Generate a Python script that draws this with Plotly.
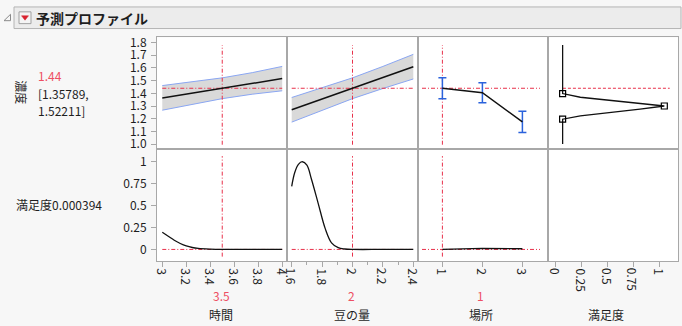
import plotly.graph_objects as go

FONT = "Noto Sans CJK JP, Noto Sans, sans-serif"
INK = "#1e1e1e"
FRAME = "#a8a8a8"
RED_LINE = "#e8304a"
RED_TEXT = "#ee4f62"
BAND = "#d9d9d9"
BAND_EDGE = "#8aa6f2"
ERR_BLUE = "#2a62dc"
PAGE = "#f7f7f7"

W, H = 682, 326

# --- names and current settings ---------------------------------------------
title_text = "予測プロファイル"
response_name = "濃度"
desir_name = "満足度"
factor_names = ["時間", "豆の量", "場所"]
current_labels = ["3.5", "2", "1"]
current_values = [3.5, 2.0, 1.0]
pred_current = 1.44
ci_text = ["[1.35789,", "1.52211]"]
desir_current_text = "0.000394"

# --- 時間 ------------------------------------------------------------------------
time_x = [3.0, 3.25, 3.5, 3.75, 4.0]
time_pred = [1.364, 1.402, 1.44, 1.478, 1.516]
time_upper = [1.461, 1.490, 1.522, 1.563, 1.612]
time_lower = [1.267, 1.314, 1.358, 1.393, 1.420]
time_desir_x = [3.0, 3.05, 3.1, 3.15, 3.2, 3.25, 3.3, 3.4, 3.5, 3.75, 4.0]
time_desir = [0.195, 0.15, 0.105, 0.068, 0.04, 0.022, 0.012, 0.004, 0.0004, 0.0, 0.0]

# --- 豆の量 ----------------------------------------------------------------------
bean_x = [1.6, 1.8, 2.0, 2.2, 2.4]
bean_pred = [1.27, 1.355, 1.44, 1.525, 1.61]
bean_upper = [1.367, 1.445, 1.522, 1.612, 1.707]
bean_lower = [1.173, 1.265, 1.358, 1.438, 1.513]
bean_desir_x = [1.6, 1.62, 1.644, 1.67, 1.7, 1.73, 1.775, 1.82, 1.862, 1.906, 1.95, 2.0, 2.2, 2.4]
bean_desir = [0.72, 0.877, 0.97, 1.0, 0.96, 0.80, 0.52, 0.24, 0.075, 0.02, 0.005, 0.0004, 0.0, 0.0]

# --- 場所 ------------------------------------------------------------------------
loc_x = [1, 2, 3]
loc_pred = [1.44, 1.405, 1.175]
loc_upper = [1.522, 1.483, 1.258]
loc_lower = [1.358, 1.325, 1.092]
loc_desir = [0.0004, 0.012, 0.008]

# --- 満足度 function (desirability vs response) -------------------------------
dfn_d = [0.067, 0.067, 0.238, 0.494, 0.814, 1.048, 0.814, 0.494, 0.238, 0.067, 0.067]
dfn_y = [1.781, 1.398, 1.369, 1.348, 1.320, 1.300, 1.276, 1.245, 1.222, 1.196, 1.0]
handle_d = [0.067, 1.048, 0.067]
handle_y = [1.398, 1.300, 1.196]

# --- tick values / labels --------------------------------------------------------
x_tick_vals = [[3, 3.2, 3.4, 3.6, 3.8, 4],
               [1.6, 1.8, 2.0, 2.2, 2.4],
               [1, 2, 3],
               [0, 0.25, 0.5, 0.75, 1]]
x_tick_text = [["3", "3.2", "3.4", "3.6", "3.8", "4"],
               ["1.6", "1.8", "2", "2.2", "2.4"],
               ["1", "2", "3"],
               ["0", "0.25", "0.5", "0.75", "1"]]
bean_minor_vals = [1.7, 1.9, 2.1, 2.3]
y_top_vals = [1.0, 1.1, 1.2, 1.3, 1.4, 1.5, 1.6, 1.7, 1.8]
y_bot_vals = [0, 0.25, 0.5, 0.75, 1]
y_bot_text = ["0", "0.25", "0.5", "0.75", "1"]

# --- axis scales -----------------------------------------------------------------
x_ranges = [[2.956, 4.04], [1.569, 2.431], [0.39, 3.64], [-0.074, 1.18]]
y_top_range = [0.959, 1.841]
y_bot_range = [-0.134, 1.142]
col_px = [(157, 287), (287, 418), (418, 548), (548, 678)]
top_px = (34, 148)
bot_px = (148, 262)


def px_x(v):
    return v / W


def px_y(v):
    return 1 - v / H


fig = go.Figure()


def ax(i):
    return ("x" if i == 1 else f"x{i}"), ("y" if i == 1 else f"y{i}")


def line(i, xs, ys, color, width=1.5, dash=None, shape="linear"):
    xa, ya = ax(i)
    fig.add_trace(go.Scatter(
        x=xs, y=ys, xaxis=xa, yaxis=ya, mode="lines",
        line=dict(color=color, width=width, dash=dash, shape=shape),
        hoverinfo="skip", showlegend=False))


REF_DASH = "4px,2px,1px,2px"

# top row: prediction profiles with confidence bands
for i, (xs, pr, up, lo, cur) in enumerate([
        (time_x, time_pred, time_upper, time_lower, current_values[0]),
        (bean_x, bean_pred, bean_upper, bean_lower, current_values[1])], start=1):
    xa, ya = ax(i)
    fig.add_trace(go.Scatter(x=xs, y=lo, xaxis=xa, yaxis=ya, mode="lines",
                             line=dict(color=BAND_EDGE, width=1), hoverinfo="skip", showlegend=False))
    fig.add_trace(go.Scatter(x=xs, y=up, xaxis=xa, yaxis=ya, mode="lines", fill="tonexty",
                             fillcolor=BAND, line=dict(color=BAND_EDGE, width=1),
                             hoverinfo="skip", showlegend=False))
    line(i, [xs[0], xs[-1]], [pred_current, pred_current], RED_LINE, 1, REF_DASH)
    line(i, [cur, cur], [0.995, 1.78], RED_LINE, 1, REF_DASH)
    line(i, xs, pr, "#111111", 1.5)

# 場所: categorical means with interval bars
line(3, [0.49, 3.44], [pred_current, pred_current], RED_LINE, 1, REF_DASH)
line(3, [current_values[2]] * 2, [0.995, 1.78], RED_LINE, 1, REF_DASH)
fig.add_trace(go.Scatter(
    x=loc_x, y=loc_pred, xaxis="x3", yaxis="y3", mode="lines",
    line=dict(color="#111111", width=1.5),
    error_y=dict(type="data", symmetric=False,
                 array=[u - p for u, p in zip(loc_upper, loc_pred)],
                 arrayminus=[p - l for p, l in zip(loc_pred, loc_lower)],
                 color=ERR_BLUE, thickness=1.5, width=4),
    hoverinfo="skip", showlegend=False))

# desirability function panel
line(4, [0.07, 1.1], [pred_current, pred_current], RED_LINE, 1, "3px,2px")
line(4, dfn_d, dfn_y, "#111111", 1.3)
fig.add_trace(go.Scatter(x=handle_d, y=handle_y, xaxis="x4", yaxis="y4", mode="markers",
                         marker=dict(symbol="square-open", size=6, color="#000000",
                                     line=dict(width=1.2)),
                         hoverinfo="skip", showlegend=False))

# bottom row: desirability traces
line(5, [3.0, 4.0], [0, 0], RED_LINE, 1, REF_DASH)
line(5, [current_values[0]] * 2, [-0.082, 1.064], RED_LINE, 1, REF_DASH)
line(5, time_desir_x, time_desir, "#111111", 1.3, shape="spline")

line(6, [1.6, 2.4], [0, 0], RED_LINE, 1, REF_DASH)
line(6, [current_values[1]] * 2, [-0.082, 1.064], RED_LINE, 1, REF_DASH)
line(6, bean_desir_x, bean_desir, "#111111", 1.3, shape="spline")

line(7, [0.49, 3.44], [0, 0], RED_LINE, 1, REF_DASH)
line(7, [current_values[2]] * 2, [-0.082, 1.064], RED_LINE, 1, REF_DASH)
line(7, loc_x, loc_desir, "#111111", 1.3)

# invisible anchor so the empty bottom-right panel still draws its frame
fig.add_trace(go.Scatter(x=[None], y=[None], xaxis="x8", yaxis="y8", mode="markers",
                         showlegend=False, hoverinfo="skip"))

tick_font = dict(family=FONT, size=12, color=INK)
frame = dict(showline=True, mirror=True, linecolor=FRAME, linewidth=1,
             showgrid=False, zeroline=False, fixedrange=True)

layout = dict(
    width=W, height=H, margin=dict(l=0, r=0, t=0, b=0, pad=0),
    paper_bgcolor=PAGE, plot_bgcolor="#ffffff",
    font=dict(family=FONT, size=12, color=INK),
    showlegend=False,
)

for c in range(4):
    dom = [px_x(col_px[c][0]), px_x(col_px[c][1])]
    top_i, bot_i = c + 1, c + 5
    tx = "xaxis" if top_i == 1 else f"xaxis{top_i}"
    ty = "yaxis" if top_i == 1 else f"yaxis{top_i}"
    bx, by = f"xaxis{bot_i}", f"yaxis{bot_i}"
    layout[tx] = dict(domain=dom, range=x_ranges[c], anchor=ax(top_i)[1],
                      showticklabels=False, ticks="", **frame)
    # bottom axes carry the tick marks; their rotated labels are placed below
    bottom_x = dict(domain=dom, range=x_ranges[c], anchor=ax(bot_i)[1],
                    tickvals=x_tick_vals[c], showticklabels=False,
                    ticks="outside", ticklen=5, tickcolor=FRAME, **frame)
    if c == 1:
        bottom_x["minor"] = dict(tickvals=bean_minor_vals, ticks="outside", ticklen=3,
                                 tickcolor=FRAME, showgrid=False)
    layout[bx] = bottom_x
    ydom_top = [px_y(top_px[1]), px_y(top_px[0])]
    ydom_bot = [px_y(bot_px[1]), px_y(bot_px[0])]
    if c == 0:
        layout[ty] = dict(domain=ydom_top, range=y_top_range, anchor="x",
                          tickvals=y_top_vals, tickformat=".1f",
                          ticks="outside", ticklen=5, tickcolor=FRAME,
                          tickfont=tick_font, ticklabelstandoff=2, **frame)
        layout[by] = dict(domain=ydom_bot, range=y_bot_range, anchor="x5",
                          tickvals=y_bot_vals, ticktext=y_bot_text,
                          ticks="outside", ticklen=5, tickcolor=FRAME,
                          tickfont=tick_font, ticklabelstandoff=2, **frame)
    else:
        layout[ty] = dict(domain=ydom_top, range=y_top_range, anchor=ax(top_i)[0],
                          showticklabels=False, ticks="", **frame)
        layout[by] = dict(domain=ydom_bot, range=y_bot_range, anchor=ax(bot_i)[0],
                          showticklabels=False, ticks="", **frame)

fig.update_layout(**layout)

# rotated x tick labels, positioned on each bottom axis' own scale
for c in range(4):
    xa = f"x{c + 5}"
    for v, t in zip(x_tick_vals[c], x_tick_text[c]):
        fig.add_annotation(text=t, xref=xa, yref="paper", x=v, y=px_y(268),
                           xanchor="center", yanchor="top", textangle=90,
                           showarrow=False, borderpad=0, font=tick_font)

# header bar
fig.add_shape(type="rect", xref="paper", yref="paper",
              x0=px_x(14), x1=px_x(681), y0=px_y(25), y1=px_y(3),
              fillcolor="#ececec", line=dict(color="#b4b4b4", width=1), layer="below")
fig.add_shape(type="path", xref="paper", yref="paper",
              path=f"M {px_x(4)} {px_y(17)} L {px_x(10.5)} {px_y(17)} L {px_x(10.5)} {px_y(10.5)} Z",
              fillcolor="rgba(0,0,0,0)", line=dict(color="#8a8a8a", width=1))
fig.add_shape(type="rect", xref="paper", yref="paper",
              x0=px_x(19), x1=px_x(31), y0=px_y(20), y1=px_y(8),
              fillcolor="#f4f4f4", line=dict(color="#a0a0a0", width=1))
fig.add_shape(type="path", xref="paper", yref="paper",
              path=f"M {px_x(21.5)} {px_y(12)} L {px_x(28.5)} {px_y(12)} L {px_x(25)} {px_y(16.5)} Z",
              fillcolor="#d8232f", line=dict(color="#d8232f", width=0.5))


def text(s, x, y, xanchor="left", color=INK, size=12, bold=False, angle=0):
    fig.add_annotation(text=f"<b>{s}</b>" if bold else s, xref="paper", yref="paper",
                       x=px_x(x), y=px_y(y), xanchor=xanchor, yanchor="middle",
                       showarrow=False, textangle=angle,
                       font=dict(family=FONT, size=size, color=color))


text(title_text, 34, 14, bold=True, size=14)

# left-side readouts
text(response_name, 22, 90, xanchor="center", angle=90)
text(f"{pred_current:.2f}", 36, 73, color=RED_TEXT)
text(ci_text[0], 36, 91)
text(ci_text[1], 36, 108)
text(f"{desir_name}{desir_current_text}", 14, 204)

# current settings and factor titles beneath the columns
label_x = [221, 351.5, 480.5, 606]
for k in range(3):
    text(current_labels[k], label_x[k], 297, xanchor="center", color=RED_TEXT)
for k, name in enumerate(factor_names + [desir_name]):
    text(name, label_x[k], 316, xanchor="center")

fig.write_html("out.html")
